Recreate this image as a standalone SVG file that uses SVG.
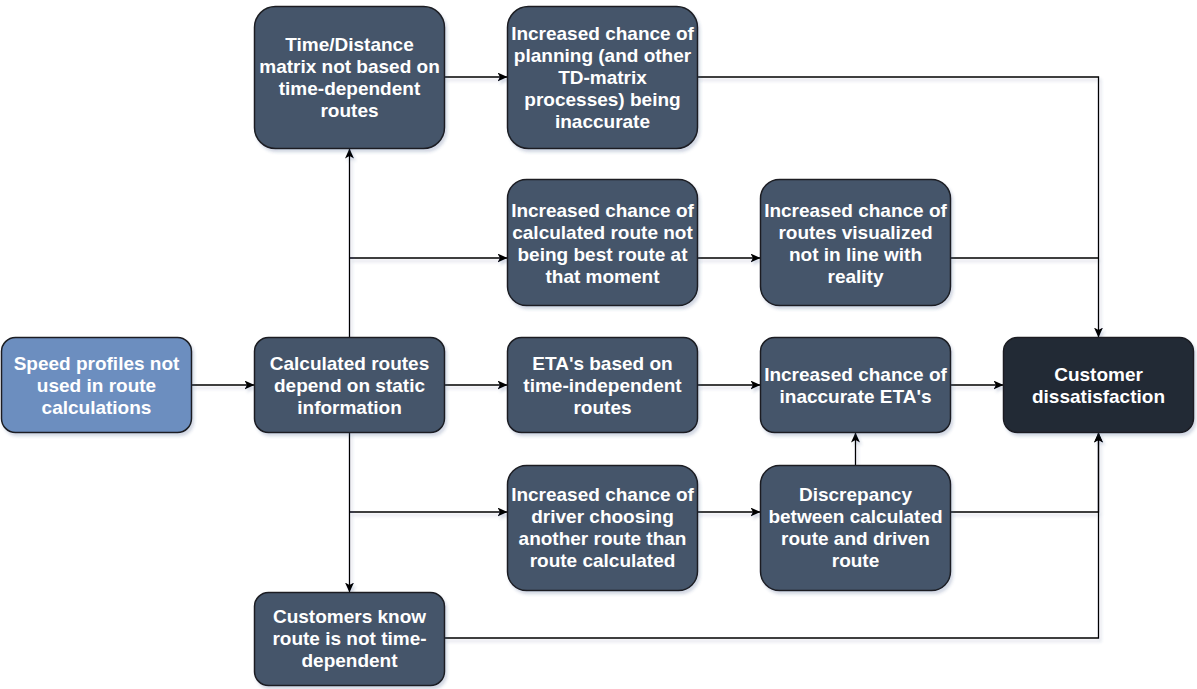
<svg xmlns="http://www.w3.org/2000/svg" width="1197" height="689" viewBox="0 0 1197 689">
<defs>
<filter id="sh" x="-10%" y="-10%" width="130%" height="130%">
<feDropShadow dx="2" dy="3" stdDeviation="1.8" flood-color="#3a4680" flood-opacity="0.22"/>
</filter>
<marker id="arr" markerUnits="userSpaceOnUse" markerWidth="11" markerHeight="10" refX="10" refY="4.5" orient="auto">
<path d="M0,0 L10,4.5 L0,9 L2.5,4.5 Z" fill="#000"/>
</marker>
<style>
.n{fill:#44546A;stroke:#1c1f24;stroke-width:1.5;filter:url(#sh)}
.lb{fill:#6C8EBF}
.dk{fill:#232A35}
.t{font-family:"Liberation Sans",Arial,sans-serif;font-weight:bold;font-size:19px;fill:#fff;text-anchor:middle}
.e{fill:none;stroke:#000;stroke-width:1.3}
.a{marker-end:url(#arr)}
</style>
</defs>
<g id="connectors" filter="url(#sh)">
<path class="e a" d="M191.5,385 H254.5"/>
<path class="e a" d="M349.5,337.5 V148.5"/>
<path class="e a" d="M349.5,258 H507.5"/>
<path class="e a" d="M349.5,432.5 V592.5"/>
<path class="e a" d="M349.5,512 H507.5"/>
<path class="e a" d="M444.5,77 H507.5"/>
<path class="e a" d="M697.5,77 H1098.5 V337.5"/>
<path class="e a" d="M697.5,258 H760.5"/>
<path class="e" d="M950.5,258 H1098.5"/>
<path class="e a" d="M444.5,385 H507.5"/>
<path class="e a" d="M697.5,385 H760.5"/>
<path class="e a" d="M950.5,385 H1003.5"/>
<path class="e a" d="M697.5,512 H760.5"/>
<path class="e a" d="M855.5,465.5 V432.5"/>
<path class="e a" d="M950.5,512 H1098.5 V432.5"/>
<path class="e a" d="M444.5,638 H1098.5 V432.5"/>
</g>
<g id="speed-profiles">
<rect class="n lb" x="1.5" y="337.5" width="190" height="95" rx="14"/>
<text class="t"><tspan x="96.5" y="369.5">Speed profiles not</tspan><tspan x="96.5" y="391.5">used in route</tspan><tspan x="96.5" y="413.5">calculations</tspan></text>
</g>
<g id="calculated-routes">
<rect class="n" x="254.5" y="337.5" width="190" height="95" rx="14"/>
<text class="t"><tspan x="349.5" y="369.5">Calculated routes</tspan><tspan x="349.5" y="391.5">depend on static</tspan><tspan x="349.5" y="413.5">information</tspan></text>
</g>
<g id="td-matrix">
<rect class="n" x="254.5" y="6.5" width="190" height="142" rx="21"/>
<text class="t"><tspan x="349.5" y="51">Time/Distance</tspan><tspan x="349.5" y="73">matrix not based on</tspan><tspan x="349.5" y="95">time-dependent</tspan><tspan x="349.5" y="117">routes</tspan></text>
</g>
<g id="planning-inaccurate">
<rect class="n" x="507.5" y="6.5" width="190" height="142" rx="21"/>
<text class="t"><tspan x="602.5" y="40">Increased chance of</tspan><tspan x="602.5" y="62">planning (and other</tspan><tspan x="602.5" y="84">TD-matrix</tspan><tspan x="602.5" y="106">processes) being</tspan><tspan x="602.5" y="128">inaccurate</tspan></text>
</g>
<g id="not-best-route">
<rect class="n" x="507.5" y="179.5" width="190" height="126" rx="19"/>
<text class="t"><tspan x="602.5" y="217">Increased chance of</tspan><tspan x="602.5" y="239">calculated route not</tspan><tspan x="602.5" y="261">being best route at</tspan><tspan x="602.5" y="283">that moment</tspan></text>
</g>
<g id="routes-visualized">
<rect class="n" x="760.5" y="179.5" width="190" height="126" rx="19"/>
<text class="t"><tspan x="855.5" y="217">Increased chance of</tspan><tspan x="855.5" y="239">routes visualized</tspan><tspan x="855.5" y="261">not in line with</tspan><tspan x="855.5" y="283">reality</tspan></text>
</g>
<g id="eta-based">
<rect class="n" x="507.5" y="337.5" width="190" height="95" rx="14"/>
<text class="t"><tspan x="602.5" y="369.5">ETA's based on</tspan><tspan x="602.5" y="391.5">time-independent</tspan><tspan x="602.5" y="413.5">routes</tspan></text>
</g>
<g id="inaccurate-eta">
<rect class="n" x="760.5" y="337.5" width="190" height="95" rx="14"/>
<text class="t"><tspan x="855.5" y="380.5">Increased chance of</tspan><tspan x="855.5" y="402.5">inaccurate ETA's</tspan></text>
</g>
<g id="customer-dissatisfaction">
<rect class="n dk" x="1003.5" y="337.5" width="190" height="95" rx="14"/>
<text class="t"><tspan x="1098.5" y="380.5">Customer</tspan><tspan x="1098.5" y="402.5">dissatisfaction</tspan></text>
</g>
<g id="driver-choosing">
<rect class="n" x="507.5" y="465.5" width="190" height="125" rx="19"/>
<text class="t"><tspan x="602.5" y="501">Increased chance of</tspan><tspan x="602.5" y="523">driver choosing</tspan><tspan x="602.5" y="545">another route than</tspan><tspan x="602.5" y="567">route calculated</tspan></text>
</g>
<g id="discrepancy">
<rect class="n" x="760.5" y="465.5" width="190" height="125" rx="19"/>
<text class="t"><tspan x="855.5" y="501">Discrepancy</tspan><tspan x="855.5" y="523">between calculated</tspan><tspan x="855.5" y="545">route and driven</tspan><tspan x="855.5" y="567">route</tspan></text>
</g>
<g id="customers-know">
<rect class="n" x="254.5" y="592.5" width="190" height="93" rx="14"/>
<text class="t"><tspan x="349.5" y="623">Customers know</tspan><tspan x="349.5" y="645">route is not time-</tspan><tspan x="349.5" y="667">dependent</tspan></text>
</g>
</svg>
